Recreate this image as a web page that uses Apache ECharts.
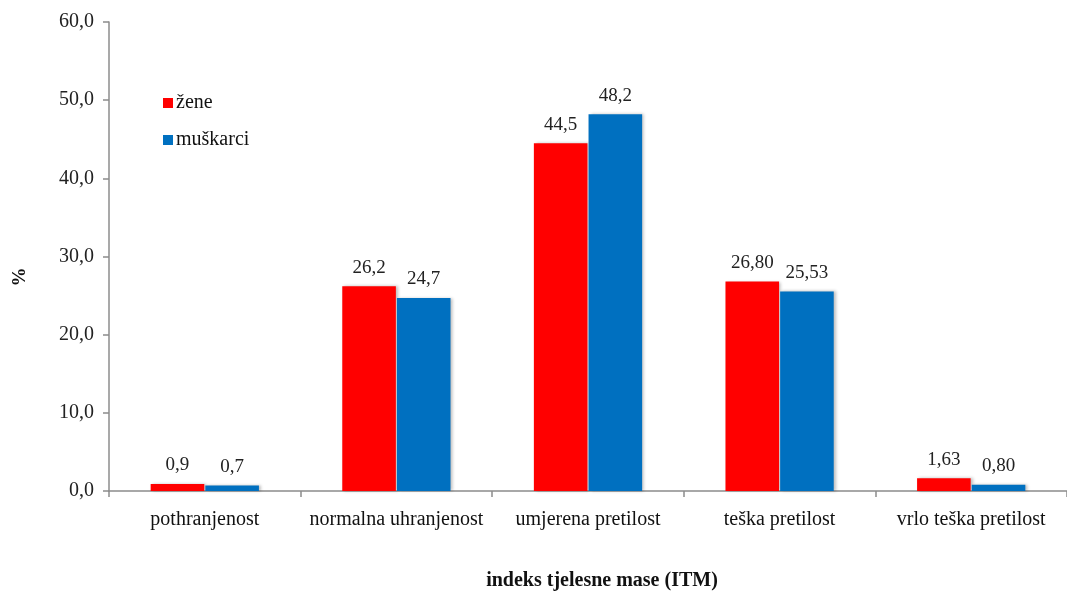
<!DOCTYPE html>
<html>
<head>
<meta charset="utf-8">
<script src="https://cdn.jsdelivr.net/npm/echarts@6/dist/echarts.min.js"></script>
<style>
  html, body { margin: 0; padding: 0; background: #fff; }
  #chart { width: 1067px; height: 596px; }
</style>
</head>
<body>
<div id="chart"></div>
<script>
// Indeks tjelesne mase (ITM) po spolu, u postocima
const categories = ['pothranjenost', 'normalna uhranjenost', 'umjerena pretilost', 'teška pretilost', 'vrlo teška pretilost'];
const zene = [0.9, 26.2, 44.5, 26.80, 1.63];
const muskarci = [0.7, 24.7, 48.2, 25.53, 0.80];
// decimals shown in each category's labels
const decimals = [1, 1, 1, 2, 2];
const yTicks = [0, 10, 20, 30, 40, 50, 60];

const FONT = '"Liberation Serif", "Times New Roman", serif';

function fmt(v, d) {
  return v.toFixed(d).replace('.', ',');
}

const chart = echarts.init(document.getElementById('chart'), null, { renderer: 'canvas' });

const barCommon = {
  type: 'bar',
  barGap: '2%',
  barCategoryGap: '43.5%',
  label: {
    show: true,
    position: 'top',
    distance: 9,
    fontFamily: FONT,
    fontSize: 19,
    color: '#222',
    formatter: p => fmt(p.value, decimals[p.dataIndex])
  }
};

chart.setOption({
  animation: false,
  backgroundColor: '#fff',
  textStyle: { fontFamily: FONT },
  grid: { left: 109, right: 0, top: 22, bottom: 105, containLabel: false, outerBoundsMode: 'none' },
  legend: {
    orient: 'vertical',
    left: 158,
    top: 88,
    itemGap: 17,
    itemWidth: 10,
    itemHeight: 10,
    icon: 'rect',
    textStyle: { fontFamily: FONT, fontSize: 20, color: '#111', padding: [0, 0, 0, -2] },
    data: ['žene', 'muškarci']
  },
  graphic: [{
    type: 'text',
    x: 20,
    y: 277,
    rotation: Math.PI / 2,
    style: {
      text: '%',
      font: 'bold 19px "Liberation Serif", serif',
      fill: '#111',
      align: 'center',
      verticalAlign: 'middle'
    }
  }],
  xAxis: {
    type: 'category',
    data: categories,
    name: 'indeks tjelesne mase (ITM)',
    nameLocation: 'middle',
    nameGap: 80,
    nameTextStyle: { fontFamily: FONT, fontSize: 20, fontWeight: 'bold', color: '#111', padding: [0, 0, 0, 28] },
    axisLine: { lineStyle: { color: '#8c8c8c', width: 1.5 } },
    axisTick: { show: true, interval: 0, length: 6, lineStyle: { color: '#8c8c8c', width: 1.5 } },
    axisLabel: { interval: 0, fontFamily: FONT, fontSize: 20, color: '#111', margin: 19 }
  },
  yAxis: {
    type: 'value',
    min: yTicks[0],
    max: yTicks[yTicks.length - 1],
    interval: 10,
    splitLine: { show: false },
    axisLine: { show: true, lineStyle: { color: '#8c8c8c', width: 1.5 } },
    axisTick: { show: true, length: 6, lineStyle: { color: '#8c8c8c', width: 1.5 } },
    axisLabel: { fontFamily: FONT, fontSize: 20, color: '#222', margin: 15, formatter: v => fmt(v, 1) }
  },
  series: [
    Object.assign({}, barCommon, {
      name: 'žene',
      data: zene,
      itemStyle: {
        color: '#ff0000',
        shadowColor: 'rgba(0,0,0,0.25)',
        shadowBlur: 3,
        shadowOffsetX: 2,
        shadowOffsetY: 0
      }
    }),
    Object.assign({}, barCommon, {
      name: 'muškarci',
      data: muskarci,
      itemStyle: {
        color: '#0070c0',
        shadowColor: 'rgba(0,0,0,0.25)',
        shadowBlur: 3,
        shadowOffsetX: 2,
        shadowOffsetY: 0
      }
    })
  ]
});
</script>
</body>
</html>
